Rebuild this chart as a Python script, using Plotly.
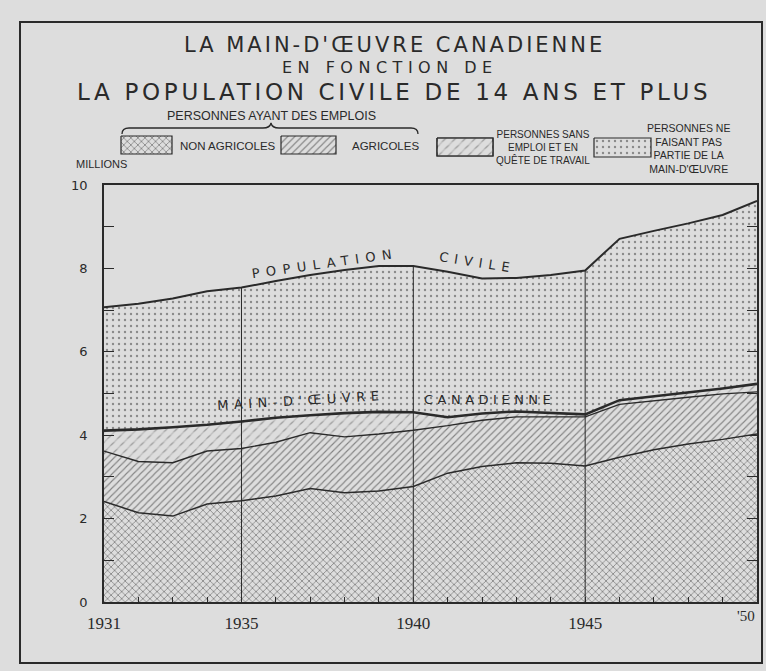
import plotly.graph_objects as go

# ---------------- data (millions) ----------------
years = list(range(1931, 1951))
non_agricoles = [2.41, 2.14, 2.06, 2.35, 2.43, 2.54, 2.72, 2.62, 2.66, 2.77,
                 3.09, 3.25, 3.34, 3.33, 3.26, 3.47, 3.65, 3.79, 3.90, 4.03]
personnes_employees = [3.62, 3.37, 3.34, 3.62, 3.68, 3.83, 4.06, 3.96, 4.03, 4.12,
                       4.23, 4.36, 4.44, 4.44, 4.44, 4.74, 4.83, 4.91, 4.99, 5.04]
main_doeuvre = [4.11, 4.14, 4.19, 4.25, 4.33, 4.42, 4.48, 4.53, 4.56, 4.55,
                4.43, 4.52, 4.57, 4.54, 4.50, 4.84, 4.93, 5.03, 5.12, 5.23]
population_civile = [7.07, 7.15, 7.28, 7.45, 7.54, 7.70, 7.84, 7.96, 8.06, 8.06,
                     7.92, 7.76, 7.77, 7.84, 7.95, 8.71, 8.90, 9.08, 9.28, 9.62]
reperes = [1935, 1940, 1945]
x_ticklabels = {1931: "1931", 1935: "1935", 1940: "1940", 1945: "1945"}
last_label = "'50"
y_ticklabels = {0: "0", 2: "2", 4: "4", 6: "6", 8: "8", 10: "10"}

INK = "#2a2a2a"
PAPER = "#dddddd"
CLEAR = "rgba(0,0,0,0)"
W, H = 766, 671

pat_cross = dict(shape="x", size=5, solidity=0.3, fgcolor=INK, bgcolor=CLEAR)
pat_agri = dict(shape="/", size=5, solidity=0.22, fgcolor=INK, bgcolor=CLEAR)
pat_chom = dict(shape="/", size=7, solidity=0.16, fgcolor="#3a3a3a", bgcolor=CLEAR)
pat_cut = dict(shape="-", size=7, solidity=0.55, fgcolor=PAPER, bgcolor=CLEAR)
pat_dots = dict(shape=".", size=6, solidity=0.12, fgcolor="#333", bgcolor=CLEAR)

fig = go.Figure()


def band(y, fill, pattern):
    fig.add_trace(go.Scatter(
        x=years, y=y, mode="lines", line=dict(width=0, color=INK),
        fill=fill, fillcolor=CLEAR, fillpattern=pattern,
        hoverinfo="skip", showlegend=False))


def ghost(y):
    fig.add_trace(go.Scatter(x=years, y=y, mode="lines", line=dict(width=0),
                             hoverinfo="skip", showlegend=False))


band(non_agricoles, "tozeroy", pat_cross)
band(personnes_employees, "tonexty", pat_agri)
band(main_doeuvre, "tonexty", pat_chom)
ghost(personnes_employees)
band(main_doeuvre, "tonexty", pat_cut)
band(population_civile, "tonexty", pat_dots)

# vertical reference lines from 0 up to the civil population curve
for yr in reperes:
    v = population_civile[years.index(yr)]
    fig.add_trace(go.Scatter(x=[yr, yr], y=[0, v], mode="lines",
                             line=dict(color=INK, width=1), hoverinfo="skip",
                             showlegend=False))

# boundary lines
for series, wdt in [(non_agricoles, 1.5), (personnes_employees, 1.4),
                    (main_doeuvre, 2.6), (population_civile, 2)]:
    fig.add_trace(go.Scatter(x=years, y=series, mode="lines",
                             line=dict(color=INK, width=wdt), hoverinfo="skip",
                             showlegend=False))

# ---------------- legend swatches (pixel overlay axes) ----------------
swatches = [
    ((121, 172, 136, 154), pat_cross),
    ((281, 336, 136, 154), pat_agri),
    ((437, 493, 138, 156), pat_chom),
    ((594, 651, 138, 157), pat_dots),
]
for (x0, x1, y0, y1), pat in swatches:
    fig.add_trace(go.Scatter(
        x=[x0, x1, x1, x0, x0], y=[y0, y0, y1, y1, y0], xaxis="x2", yaxis="y2",
        mode="lines", fill="toself", fillcolor=CLEAR, fillpattern=pat,
        line=dict(color=INK, width=1.2), hoverinfo="skip", showlegend=False))
    if pat is pat_chom:
        fig.add_trace(go.Scatter(
            x=[x0, x1, x1, x0, x0], y=[y0, y0, y1, y1, y0], xaxis="x2", yaxis="y2",
            mode="lines", fill="toself", fillcolor=CLEAR, fillpattern=pat_cut,
            line=dict(color=INK, width=1.2), hoverinfo="skip", showlegend=False))


def ls(txt, px):
    return f'<span style="letter-spacing:{px}px">{txt}</span>'


def note(x, y, text, size, family="DejaVu Sans", angle=0, spacing=None):
    t = ls(text, spacing) if spacing is not None else text
    fig.add_annotation(x=x, y=y, xref="x2", yref="y2", text=t, showarrow=False,
                       textangle=angle, xanchor="center", yanchor="middle",
                       font=dict(family=family, size=size, color=INK))


# titles
note(394, 45, "LA MAIN-D'ŒUVRE CANADIENNE", 21, spacing=3)
note(390, 67, "EN FONCTION DE", 16, spacing=5.5)
note(394, 92, "LA POPULATION CIVILE DE 14 ANS ET PLUS", 23, spacing=3.7)

# legend texts
note(271, 116, "PERSONNES AYANT DES EMPLOIS", 12.5, family="Liberation Sans")
note(228, 146, "NON AGRICOLES", 11.5, family="Liberation Sans")
note(385, 146, "AGRICOLES", 11.5, family="Liberation Sans")
note(543, 147, "PERSONNES SANS<br>EMPLOI ET EN<br>QUÊTE DE TRAVAIL", 10, family="Liberation Sans")
note(688, 148, "PERSONNES NE<br>FAISANT PAS<br>PARTIE DE LA<br>MAIN-D'ŒUVRE", 10.5, family="Liberation Sans")
note(101, 164, "MILLIONS", 11, family="Liberation Sans")

# curve labels
note(325, 263, "POPULATION", 13, angle=-8, spacing=6.5)
note(477, 262, "CIVILE", 13, angle=9, spacing=6)
note(301, 400, "MAIN-D'ŒUVRE", 13, angle=-3.4, spacing=5.5)
note(489, 399, "CANADIENNE", 13, spacing=4.5)

# last x label, kept inside the frame
fig.add_annotation(x=years[-1], y=0, xref="x", yref="y", text=last_label,
                   showarrow=False, xanchor="right", yanchor="top", yshift=-4,
                   font=dict(family="Liberation Serif", size=15, color=INK))

# brace and outer frame
fig.add_shape(type="path", xref="x2", yref="y2",
              path="M 122 134 Q 122 128 129 128 L 263 128 Q 270 128 271 123 "
                   "Q 272 128 279 128 L 411 128 Q 418 128 418 134",
              line=dict(color=INK, width=1.3))
fig.add_shape(type="rect", xref="x2", yref="y2", x0=20, x1=762, y0=22, y1=663,
              line=dict(color=INK, width=2))

# ---------------- layout ----------------
px_left, px_right, px_top, px_bottom = 104, 757, 185, 602
fig.update_layout(
    width=W, height=H,
    margin=dict(l=0, r=0, t=0, b=0, pad=0, autoexpand=False),
    paper_bgcolor=PAPER, plot_bgcolor=CLEAR,
    font=dict(family="DejaVu Sans", color=INK),
    showlegend=False,
    xaxis=dict(domain=[px_left / W, px_right / W], range=[1931, 1950],
               tickvals=years, ticktext=[x_ticklabels.get(y, "") for y in years],
               ticks="inside", ticklen=5, tickcolor=INK, tickwidth=1,
               showline=True, linecolor=INK, linewidth=1.6, mirror=True,
               showgrid=False, zeroline=False, ticklabelstandoff=5,
               automargin=False,
               tickfont=dict(family="Liberation Serif", size=17, color=INK),
               fixedrange=True),
    yaxis=dict(domain=[(H - px_bottom) / H, (H - px_top) / H], range=[0, 10],
               tickvals=list(range(0, 11)),
               ticktext=[y_ticklabels.get(v, "") for v in range(0, 11)],
               ticks="inside", ticklen=10, tickcolor=INK, tickwidth=1,
               showline=True, linecolor=INK, linewidth=1.6, mirror="ticks",
               showgrid=False, zeroline=False, ticklabelstandoff=12,
               automargin=False,
               tickfont=dict(family="DejaVu Sans", size=13, color=INK),
               fixedrange=True),
    xaxis2=dict(domain=[0, 1], range=[0, W], visible=False, anchor="y2",
                automargin=False, fixedrange=True),
    yaxis2=dict(domain=[0, 1], range=[H, 0], visible=False, anchor="x2",
                automargin=False, fixedrange=True),
)

fig.write_html(
    "out.html",
    config={"displayModeBar": False},
    post_script="document.body.style.margin='0';"
                "document.documentElement.style.overflow='hidden';"
                "document.body.style.overflow='hidden';",
)
